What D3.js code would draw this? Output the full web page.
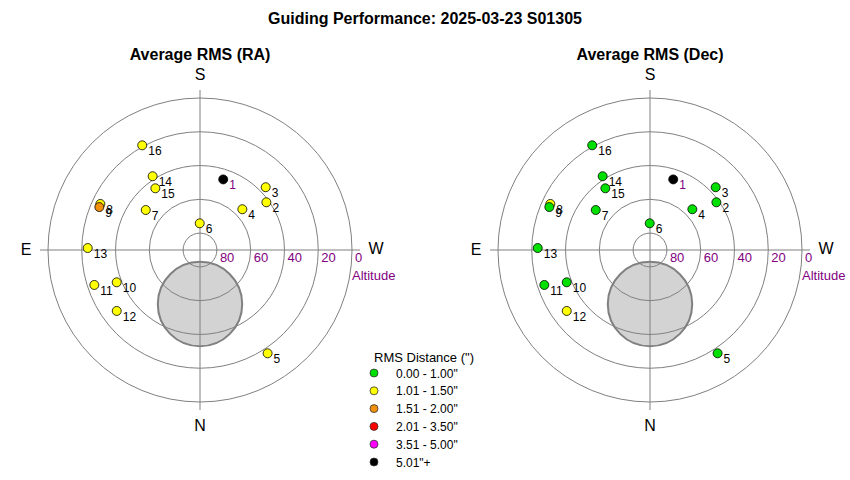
<!DOCTYPE html>
<html lang="en">
<head>
<meta charset="utf-8">
<title>Guiding Performance</title>
<script src="https://cdn.jsdelivr.net/npm/d3@7"></script>
<style>
  body { margin: 0; background: #fff; }
  svg { font-family: Arial, "Liberation Sans", sans-serif; }
  .grid { fill: none; stroke: #808080; stroke-width: 1; }
  .alt { fill: #800080; font-size: 13px; }
  .dir { font-size: 16px; fill: #000; }
</style>
</head>
<body>
<script>
// session numbers and sky position of each guiding run
var sessions = [1, 2, 3, 4, 5, 6, 7, 8, 9, 10, 11, 12, 13, 14, 15, 16];
var altitude = [46, 41.6, 36.2, 55.2, 16.9, 74.2, 50.1, 25, 25.2, 37.1, 24.1, 28.9, 23.5, 38.1, 44.9, 19.2];
var azimuth  = [198.2, 234.3, 226.3, 226.1, 326.8, 179.4, 126.4, 114.8, 113.1, 68.8, 71.7, 53.8, 91.0, 147.3, 144.1, 151.1];
// average RMS per session (arcsec)
var rmsRA  = [6.20, 1.32, 1.28, 1.21, 1.18, 1.25, 1.34, 1.42, 1.63, 1.19, 1.27, 1.38, 1.22, 1.30, 1.24, 1.36];
var rmsDec = [5.80, 0.82, 0.76, 0.71, 0.68, 0.74, 0.88, 1.12, 0.93, 0.79, 0.85, 1.09, 0.81, 0.77, 0.72, 0.90];

var ringAlts = [80, 60, 40, 20, 0];
var legendLabels = ['0.00 - 1.00"', '1.01 - 1.50"', '1.51 - 2.00"', '2.01 - 3.50"', '3.51 - 5.00"', '5.01"+'];
var legendColors = ["#00e000", "#ffff00", "#f0900c", "#ff0000", "#ff00ff", "#000000"];
var rmsBreaks = [1.005, 1.505, 2.005, 3.505, 5.005];

// grey no-go disc around the pole (altitude / azimuth of centre, radius in degrees)
var discAlt = 58, discAz = 0, discRadius = 25;

var width = 850, height = 480, R = 152;

var colour = d3.scaleThreshold().domain(rmsBreaks).range(legendColors);
var r = d3.scaleLinear().domain([90, 0]).range([0, R]);

var svg = d3.select("body").append("svg")
    .attr("width", width)
    .attr("height", height);

svg.append("text")
    .attr("x", 425).attr("y", 24)
    .attr("text-anchor", "middle")
    .style("font-weight", "bold").style("font-size", "16px")
    .text("Guiding Performance: 2025-03-23 S01305");

function pos(alt, az) {
  var rad = az * Math.PI / 180, d = r(alt);
  return [-d * Math.sin(rad), d * Math.cos(rad)];
}

function drawPolar(cx, title, values) {
  var g = svg.append("g").attr("transform", "translate(" + cx + ",250)");

  g.append("text")
      .attr("x", 0).attr("y", -190)
      .attr("text-anchor", "middle")
      .style("font-weight", "bold").style("font-size", "16px")
      .text(title);

  var dc = pos(discAlt, discAz);
  g.append("circle")
      .attr("cx", dc[0]).attr("cy", dc[1])
      .attr("r", r(90 - discRadius))
      .style("fill", "#d3d3d3").style("stroke", "#808080").style("stroke-width", 2);

  g.selectAll("circle.ring")
      .data(ringAlts)
    .enter().append("circle")
      .attr("class", "grid ring")
      .attr("r", function(d) { return r(d); });

  g.append("line").attr("class", "grid").attr("x1", -160).attr("x2", 160);
  g.append("line").attr("class", "grid").attr("y1", -160).attr("y2", 160);

  g.selectAll("text.alt")
      .data(ringAlts)
    .enter().append("text")
      .attr("class", "alt")
      .attr("x", function(d) { return r(d) + 3; })
      .attr("y", 12)
      .text(function(d) { return d; });

  g.append("text").attr("class", "alt").attr("x", 152).attr("y", 30).text("Altitude");

  g.append("text").attr("class", "dir").attr("text-anchor", "middle").attr("x", 0).attr("y", -170).text("S");
  g.append("text").attr("class", "dir").attr("text-anchor", "middle").attr("x", 0).attr("y", 181).text("N");
  g.append("text").attr("class", "dir").attr("text-anchor", "middle").attr("x", -174).attr("y", 5).text("E");
  g.append("text").attr("class", "dir").attr("text-anchor", "middle").attr("x", 176).attr("y", 4).text("W");

  var pts = g.selectAll("g.pt")
      .data(sessions)
    .enter().append("g")
      .attr("class", "pt")
      .attr("transform", function(d, i) {
        return "translate(" + pos(altitude[i], azimuth[i]) + ")";
      });

  pts.append("circle")
      .attr("r", 4.5)
      .style("fill", function(d, i) { return colour(values[i]); })
      .style("stroke", "#000").style("stroke-width", 0.8);

  pts.append("text")
      .attr("x", 6).attr("y", 10)
      .style("font-size", "12px")
      .style("fill", function(d, i) { return values[i] > 5 ? "#800080" : "#000"; })
      .text(function(d) { return d; });
}

drawPolar(200, "Average RMS (RA)", rmsRA);
drawPolar(650, "Average RMS (Dec)", rmsDec);

var legend = svg.append("g").attr("transform", "translate(374,0)");
legend.append("text")
    .attr("x", 0).attr("y", 362)
    .style("font-size", "13px")
    .text("RMS Distance (\")");

var rows = legend.selectAll("g.row")
    .data(legendLabels)
  .enter().append("g")
    .attr("class", "row")
    .attr("transform", function(d, i) { return "translate(0," + (373 + i * 17.8) + ")"; });

rows.append("circle")
    .attr("r", 4)
    .style("fill", function(d, i) { return legendColors[i]; })
    .style("stroke", "#333").style("stroke-width", 0.8);

rows.append("text")
    .attr("x", 22).attr("y", 4.5)
    .style("font-size", "12px")
    .text(function(d) { return d; });
</script>
</body>
</html>
